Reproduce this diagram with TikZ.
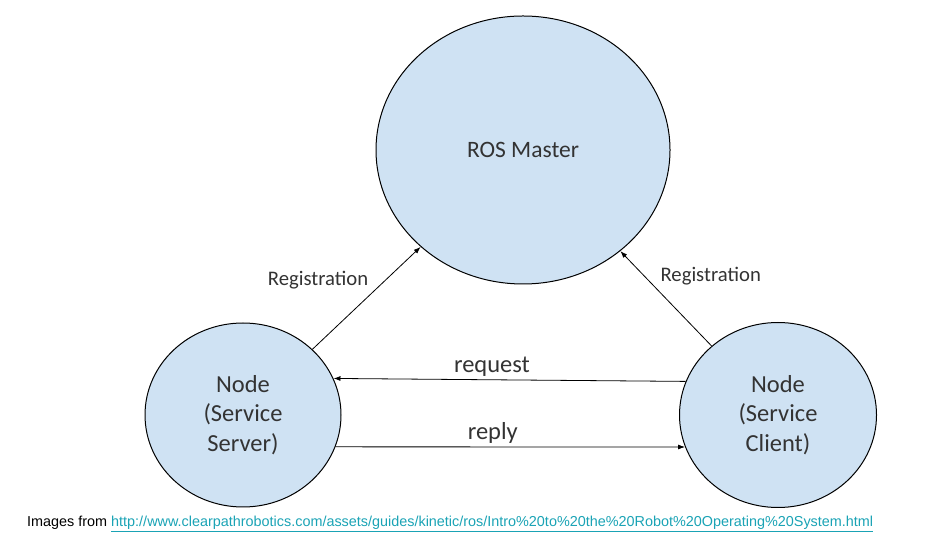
\documentclass[tikz,border=0pt]{standalone}
\usepackage{fontspec}
\setmainfont{Carlito}
\newfontfamily\footfont{Liberation Sans}
\usetikzlibrary{shapes.geometric,arrows.meta}
\definecolor{nodeblue}{HTML}{CFE2F3}
\definecolor{textgray}{HTML}{333333}
\definecolor{linkteal}{HTML}{1AA3B5}
\begin{document}
\begin{tikzpicture}[x=1pt, y=1pt,
        rosnode/.style={ellipse, draw, line width=1pt, fill=nodeblue, text=textgray, align=center, font=\fontsize{24.5}{29.5}\selectfont},
        msg/.style={-{Latex[length=7pt,width=5pt]}, line width=0.8pt},
        lbl/.style={text=textgray, font=\fontsize{20.7}{24}\selectfont}]
        \useasboundingbox (0, 0) rectangle (925, 545);
        \node[style=rosnode, minimum width=294, minimum height=268, font=\fontsize{23.5}{28}\selectfont] (master) at (523, 395) {ROS Master};
        \node[style=rosnode, minimum width=196, minimum height=184] (server) at (243, 130) {Node\\(Service\\Server)};
        \node[style=rosnode, minimum width=197, minimum height=185] (client) at (778, 130) {Node\\(Service\\Client)};

        \path
            (server) edge[msg] node[lbl, above left, pos=.55] {Registration} (master)
            (client) edge[msg] node[lbl, above right, pos=.6] {Registration} (master)
            (client.160) edge[msg] node[lbl, above, pos=.55, font=\fontsize{24.5}{28}\selectfont] {request} (server.22)
            (server.341) edge[msg] node[lbl, above, pos=.45, font=\fontsize{24.5}{28}\selectfont] {reply} (client.199)
        ;

        \node[anchor=base west, inner sep=0pt, font=\footfont\fontsize{14.4}{16}\selectfont] (source) at (27, 18)
            {Images from \textcolor{linkteal}{\underline{http://www.clearpathrobotics.com/assets/guides/kinetic/ros/Intro\%20to\%20the\%20Robot\%20Operating\%20System.html}}};
    \end{tikzpicture}
\end{document}
